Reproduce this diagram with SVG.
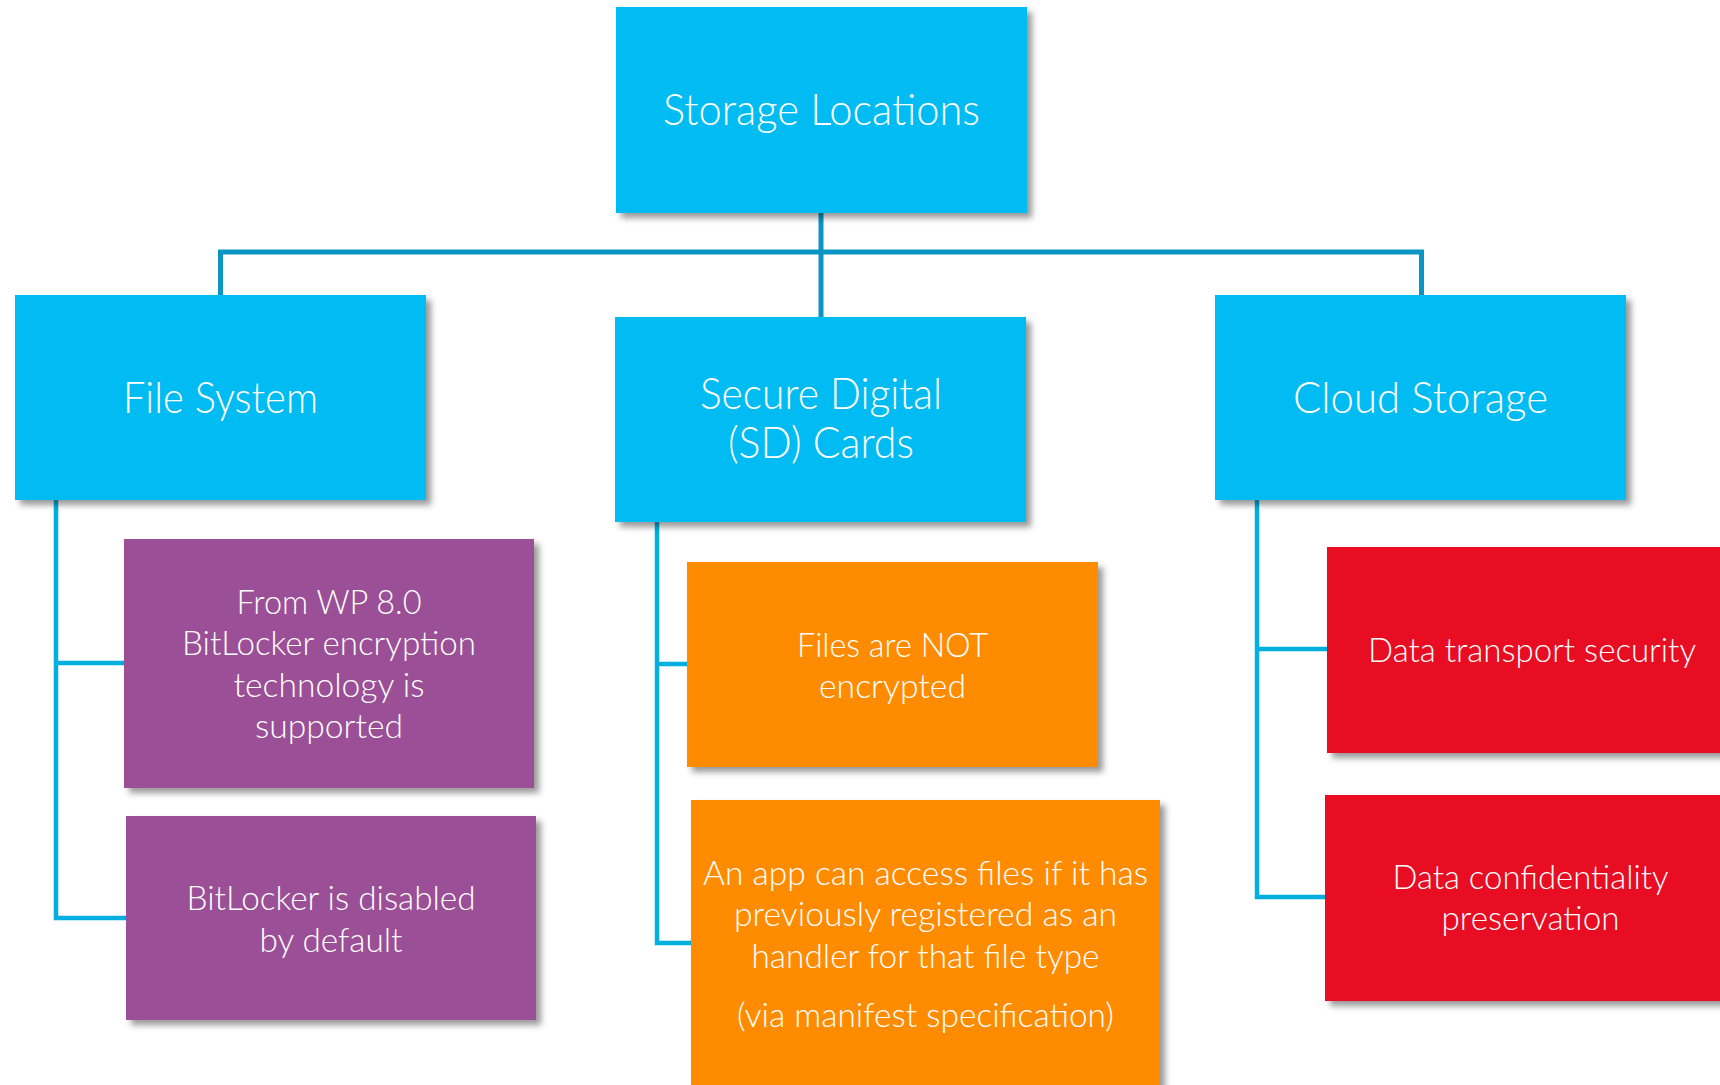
<svg xmlns="http://www.w3.org/2000/svg" width="1720" height="1085" viewBox="0 0 1720 1085">
<style>
.t{font-family:Lato,"Open Sans","Noto Sans","Liberation Sans",sans-serif;font-weight:300;fill:#ffffff;text-anchor:middle}
.h{font-size:44px}
.b{font-size:34px}
.cyan{fill:#00BCF2}
.purple{fill:#9B4F96}
.orange{fill:#FF8C00}
.red{fill:#E81123}
.c1{fill:none;stroke:#0A95C3;stroke-width:5}
.c2{fill:none;stroke:#00AEDF;stroke-width:4.5}
</style>
<defs>
<filter id="sh" x="-10%" y="-10%" width="125%" height="125%">
<feDropShadow dx="5" dy="5" stdDeviation="3" flood-color="#000" flood-opacity="0.4"/>
</filter>
</defs>
<rect width="1720" height="1085" fill="#ffffff"/>
<g id="connectors">
<path class="c1" d="M220.5,297 V252 H1421.5 V297"/>
<path class="c1" d="M821,210 V319"/>
<path class="c2" d="M56,498 V918 H128 M56,663 H126"/>
<path class="c2" d="M657,520 V943 H693 M657,664 H689"/>
<path class="c2" d="M1257,498 V897 H1327 M1257,649 H1329"/>
</g>
<g id="storage-locations">
<rect class="cyan" x="616" y="7" width="411" height="206" filter="url(#sh)"/>
<text class="t h" x="821.5" y="125" textLength="317" lengthAdjust="spacingAndGlyphs">Storage Locations</text>
</g>
<g id="file-system">
<rect class="cyan" x="15" y="295" width="411" height="205" filter="url(#sh)"/>
<text class="t h" x="220.5" y="413" textLength="195" lengthAdjust="spacingAndGlyphs">File System</text>
</g>
<g id="sd-cards">
<rect class="cyan" x="615" y="317" width="411" height="205" filter="url(#sh)"/>
<text class="t h" x="821" y="409" textLength="242" lengthAdjust="spacingAndGlyphs">Secure Digital</text>
<text class="t h" x="821" y="458" textLength="186" lengthAdjust="spacingAndGlyphs">(SD) Cards</text>
</g>
<g id="cloud-storage">
<rect class="cyan" x="1215" y="295" width="411" height="205" filter="url(#sh)"/>
<text class="t h" x="1420.5" y="413" textLength="255" lengthAdjust="spacingAndGlyphs">Cloud Storage</text>
</g>
<g id="bitlocker-supported">
<rect class="purple" x="124" y="539" width="410" height="249" filter="url(#sh)"/>
<text class="t b" x="329" y="614" textLength="185" lengthAdjust="spacingAndGlyphs">From WP 8.0</text>
<text class="t b" x="329" y="655" textLength="294" lengthAdjust="spacingAndGlyphs">BitLocker encryption</text>
<text class="t b" x="329" y="697" textLength="191" lengthAdjust="spacingAndGlyphs">technology is</text>
<text class="t b" x="329" y="738" textLength="148" lengthAdjust="spacingAndGlyphs">supported</text>
</g>
<g id="bitlocker-disabled">
<rect class="purple" x="126" y="816" width="410" height="204" filter="url(#sh)"/>
<text class="t b" x="331" y="910" textLength="289" lengthAdjust="spacingAndGlyphs">BitLocker is disabled</text>
<text class="t b" x="331" y="952" textLength="143" lengthAdjust="spacingAndGlyphs">by default</text>
</g>
<g id="not-encrypted">
<rect class="orange" x="687" y="562" width="411" height="205" filter="url(#sh)"/>
<text class="t b" x="892.5" y="657" textLength="191" lengthAdjust="spacingAndGlyphs">Files are NOT</text>
<text class="t b" x="892.5" y="698" textLength="147" lengthAdjust="spacingAndGlyphs">encrypted</text>
</g>
<g id="app-access">
<rect class="orange" x="691" y="800" width="469" height="300" filter="url(#sh)"/>
<text class="t b" x="925.5" y="885" textLength="445" lengthAdjust="spacingAndGlyphs">An app can access files if it has</text>
<text class="t b" x="925.5" y="926" textLength="383" lengthAdjust="spacingAndGlyphs">previously registered as an</text>
<text class="t b" x="925.5" y="968" textLength="348" lengthAdjust="spacingAndGlyphs">handler for that file type</text>
<text class="t b" x="925.5" y="1027" textLength="377" lengthAdjust="spacingAndGlyphs">(via manifest specification)</text>
</g>
<g id="transport-security">
<rect class="red" x="1327" y="547" width="411" height="206" filter="url(#sh)"/>
<text class="t b" x="1532" y="662" textLength="328" lengthAdjust="spacingAndGlyphs">Data transport security</text>
</g>
<g id="confidentiality">
<rect class="red" x="1325" y="795" width="411" height="206" filter="url(#sh)"/>
<text class="t b" x="1530.5" y="889" textLength="276" lengthAdjust="spacingAndGlyphs">Data confidentiality</text>
<text class="t b" x="1530.5" y="930" textLength="178" lengthAdjust="spacingAndGlyphs">preservation</text>
</g>
</svg>
